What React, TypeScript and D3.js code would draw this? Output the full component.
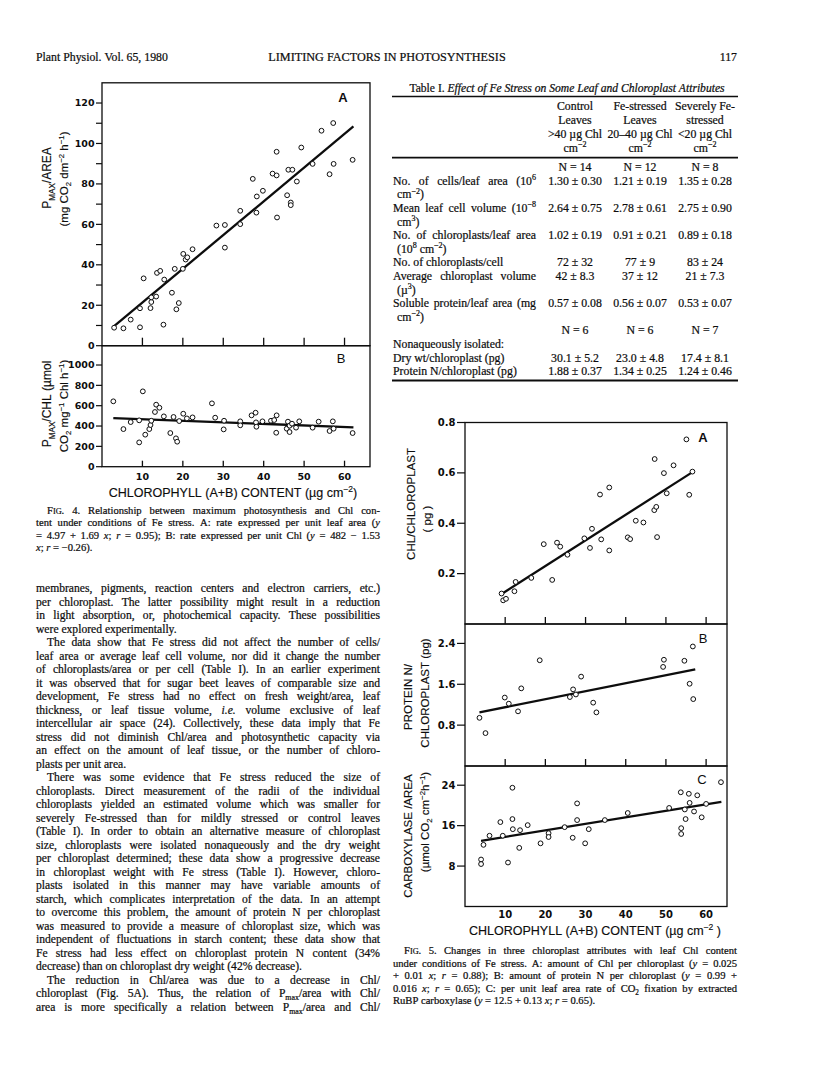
import React from "react";
import * as d3 from "d3";

const SERIF = '"Liberation Serif", "Times New Roman", Times, serif';
const SANS = '"Liberation Sans", Arial, Helvetica, sans-serif';
const TICKF = '"DejaVu Sans", "Liberation Sans", sans-serif';
const INK = "#0d0d0d";

type P = [number, number];

// ---------------- Fig. 4 data (chlorophyll µg cm-2, value) ----------------
const fig4A: P[] = [
  [3.0, 8.9], [5.3, 8.6], [7.1, 12.9], [9.4, 9.1], [9.4, 18.5], [10.3, 33.3], [12.0, 18.6], [12.2, 21.6],
  [12.2, 23.9], [13.4, 24.3], [13.6, 36.0], [14.4, 37.0], [15.2, 10.4], [15.4, 32.7], [17.3, 26.2], [18.0, 38.0],
  [18.4, 18.0], [19.0, 21.1], [20.0, 38.0], [20.1, 45.4], [20.7, 42.6], [21.1, 43.7], [22.4, 47.7], [28.3, 59.4],
  [30.4, 59.7], [30.4, 48.5], [34.2, 60.1], [34.2, 66.7], [37.3, 82.5], [38.3, 73.8], [38.2, 65.8], [39.8, 76.6],
  [42.2, 85.1], [43.2, 95.9], [43.2, 84.2], [43.3, 63.4], [45.8, 74.4], [46.1, 87.0], [47.1, 87.0],
  [46.7, 70.8], [46.7, 69.5], [48.2, 81.2], [49.3, 98.0], [52.1, 89.9], [54.3, 106.3], [56.3, 84.8], [57.2, 110.1],
  [57.3, 89.9], [62.0, 91.9],
];
const fig4B: P[] = [
  [2.8, 643], [5.3, 370], [7.1, 439], [9.2, 239], [9.2, 456], [10.1, 741], [10.7, 315], [11.7, 370], [12.0, 410],
  [12.2, 452], [13.1, 538], [13.4, 610], [14.2, 580], [15.3, 495], [16.9, 331], [17.7, 489], [18.3, 279], [18.6, 246],
  [19.1, 449], [20.1, 521], [21.0, 475], [22.4, 485], [27.2, 623], [28.0, 482], [30.1, 367], [30.2, 452], [34.2, 446],
  [34.2, 407], [37.0, 505], [38.0, 531], [38.1, 436], [38.2, 393], [39.7, 446], [41.8, 452], [42.6, 459], [43.2, 505],
  [43.1, 334], [46.0, 443], [45.7, 374], [46.4, 403], [46.4, 341], [47.0, 423], [48.0, 384], [48.8, 446], [52.1, 384],
  [53.6, 443], [56.3, 351], [57.1, 446], [57.3, 374], [62.0, 331],
];
const fit4A: P[] = [[3.0, 9.7], [62.2, 108.4]];
const fit4B: P[] = [[2.8, 478], [62.2, 387]];

// ---------------- Fig. 5 data ----------------
const fig5A: P[] = [
  [9.1, 0.121], [9.5, 0.094], [10.2, 0.1], [12.3, 0.13], [12.6, 0.167], [16.5, 0.183], [19.6, 0.317], [21.7, 0.175],
  [22.9, 0.323], [23.7, 0.307], [25.5, 0.275], [29.7, 0.34], [31.1, 0.302], [31.6, 0.378], [33.6, 0.514], [33.9, 0.336],
  [35.9, 0.542], [35.9, 0.292], [40.5, 0.344], [41.1, 0.337], [42.5, 0.41], [44.4, 0.403], [47.2, 0.655], [47.1, 0.452],
  [47.6, 0.465], [47.8, 0.345], [49.5, 0.599], [50.2, 0.519], [51.9, 0.63], [55.1, 0.733], [55.8, 0.513], [56.6, 0.605],
];
const fig5B: P[] = [
  [3.6, 0.943], [5.1, 0.644], [9.9, 1.34], [10.9, 1.22], [13.2, 1.07], [14.0, 1.52], [18.6, 2.07], [26.1, 1.35],
  [26.9, 1.5], [27.6, 1.4], [28.9, 1.75], [31.9, 1.24], [32.7, 1.05], [49.3, 1.94], [49.5, 2.08], [54.6, 2.06],
  [55.9, 1.61], [56.7, 2.34], [56.8, 1.31],
];
const fig5C: P[] = [
  [4.0, 9.3], [4.0, 8.4], [4.6, 12.2], [6.1, 14.0], [8.8, 16.7], [9.4, 14.0], [10.7, 8.7], [11.8, 23.5], [11.8, 17.3],
  [11.9, 15.3], [13.5, 11.6], [13.7, 15.1], [15.6, 16.1], [18.8, 12.5], [20.8, 14.5], [20.8, 13.75], [24.8, 15.7],
  [26.8, 13.6], [27.9, 20.4], [27.9, 17.1], [29.9, 12.5], [30.8, 15.3], [34.8, 17.1], [40.5, 18.5], [50.8, 19.5],
  [53.7, 22.6], [53.8, 15.5], [53.8, 14.35], [54.7, 19.2], [54.9, 17.3], [55.7, 22.3], [55.9, 20.5], [57.0, 18.8],
  [57.8, 22.0], [58.9, 17.65], [60.0, 20.3], [63.7, 24.6],
];
const fit5A: P[] = [[9.2, 0.12], [56.8, 0.605]];
const fit5B: P[] = [[3.6, 1.05], [57.3, 1.89]];
const fit5C: P[] = [[4.0, 13.0], [63.8, 20.7]];

// ---------------- ticks ----------------
const chlTicks = [10, 20, 30, 40, 50, 60];
const ticks4A = [0, 20, 40, 60, 80, 100, 120];
const minor4A = [10, 30, 50, 70, 90, 110];
const ticks4B = [0, 200, 400, 600, 800, 1000];
const ticks5A = [0.2, 0.4, 0.6, 0.8];
const ticks5B = [0.8, 1.6, 2.4];
const ticks5C = [8, 16, 24];

// ---------------- Table I ----------------
const colHeads = [
  ["Control", "Leaves", ">40 µg Chl", "cm^{−2}"],
  ["Fe-stressed", "Leaves", "20–40 µg Chl", "cm^{−2}"],
  ["Severely Fe-", "stressed", "<20 µg Chl", "cm^{−2}"],
];
const nGroup1 = ["N = 14", "N = 12", "N = 8"];
const nGroup2 = ["N = 6", "N = 6", "N = 7"];
const rowLabels1 = [
  ["No. of cells/leaf area (10^{6}", "cm^{−2})"],
  ["Mean leaf cell volume (10^{−8}", "cm^{3})"],
  ["No. of chloroplasts/leaf area", "(10^{8} cm^{−2})"],
  ["No. of chloroplasts/cell"],
  ["Average chloroplast volume", "(µ^{3})"],
  ["Soluble protein/leaf area (mg", "cm^{−2})"],
];
const groupLabel2 = "Nonaqueously isolated:";
const rowLabels2 = [["Dry wt/chloroplast (pg)"], ["Protein N/chloroplast (pg)"]];
const controlVals = ["1.30 ± 0.30", "2.64 ± 0.75", "1.02 ± 0.19", "72 ± 32", "42 ± 8.3", "0.57 ± 0.08", "30.1 ± 5.2", "1.88 ± 0.37"];
const feVals = ["1.21 ± 0.19", "2.78 ± 0.61", "0.91 ± 0.21", "77 ± 9", "37 ± 12", "0.56 ± 0.07", "23.0 ± 4.8", "1.34 ± 0.25"];
const severeVals = ["1.35 ± 0.28", "2.75 ± 0.90", "0.89 ± 0.18", "83 ± 24", "21 ± 7.3", "0.53 ± 0.07", "17.4 ± 8.1", "1.24 ± 0.46"];

// ---------------- running text ----------------
const fig4Caption: [string, string][] = [
  ["J", "F[ig]. 4. Relationship between maximum photosynthesis and Chl con-"],
  ["j", "tent under conditions of Fe stress. A: rate expressed per unit leaf area (*y*"],
  ["j", "= 4.97 + 1.69 *x*; *r* = 0.95); B: rate expressed per unit Chl (*y* = 482 − 1.53"],
  ["l", "*x*; *r* = −0.26)."],
];
const fig5Caption: [string, string][] = [
  ["J", "F[ig]. 5. Changes in three chloroplast attributes with leaf Chl content"],
  ["j", "under conditions of Fe stress. A: amount of Chl per chloroplast (*y* = 0.025"],
  ["j", "+ 0.01 *x*; *r* = 0.88); B: amount of protein N per chloroplast (*y* = 0.99 +"],
  ["j", "0.016 *x*; *r* = 0.65); C: per unit leaf area rate of CO_{2} fixation by extracted"],
  ["l", "RuBP carboxylase (*y* = 12.5 + 0.13 *x*; *r* = 0.65)."],
];
const bodyText: [string, string][] = [
  ["j", "membranes, pigments, reaction centers and electron carriers, etc.)"],
  ["j", "per chloroplast. The latter possibility might result in a reduction"],
  ["j", "in light absorption, or, photochemical capacity. These possibilities"],
  ["l", "were explored experimentally."],
  ["J", "The data show that Fe stress did not affect the number of cells/"],
  ["j", "leaf area or average leaf cell volume, nor did it change the number"],
  ["j", "of chloroplasts/area or per cell (Table I). In an earlier experiment"],
  ["j", "it was observed that for sugar beet leaves of comparable size and"],
  ["j", "development, Fe stress had no effect on fresh weight/area, leaf"],
  ["j", "thickness, or leaf tissue volume, *i.e.* volume exclusive of leaf"],
  ["j", "intercellular air space (24). Collectively, these data imply that Fe"],
  ["j", "stress did not diminish Chl/area and photosynthetic capacity via"],
  ["j", "an effect on the amount of leaf tissue, or the number of chloro-"],
  ["l", "plasts per unit area."],
  ["J", "There was some evidence that Fe stress reduced the size of"],
  ["j", "chloroplasts. Direct measurement of the radii of the individual"],
  ["j", "chloroplasts yielded an estimated volume which was smaller for"],
  ["j", "severely Fe-stressed than for mildly stressed or control leaves"],
  ["j", "(Table I). In order to obtain an alternative measure of chloroplast"],
  ["j", "size, chloroplasts were isolated nonaqueously and the dry weight"],
  ["j", "per chloroplast determined; these data show a progressive decrease"],
  ["j", "in chloroplast weight with Fe stress (Table I). However, chloro-"],
  ["j", "plasts isolated in this manner may have variable amounts of"],
  ["j", "starch, which complicates interpretation of the data. In an attempt"],
  ["j", "to overcome this problem, the amount of protein N per chloroplast"],
  ["j", "was measured to provide a measure of chloroplast size, which was"],
  ["j", "independent of fluctuations in starch content; these data show that"],
  ["j", "Fe stress had less effect on chloroplast protein N content (34%"],
  ["l", "decrease) than on chloroplast dry weight (42% decrease)."],
  ["J", "The reduction in Chl/area was due to a decrease in Chl/"],
  ["j", "chloroplast (Fig. 5A). Thus, the relation of P_{max}/area with Chl/"],
  ["j", "area is more specifically a relation between P_{max}/area and Chl/"],
];

// ---------------- rich text helpers ----------------
let measureCtx: CanvasRenderingContext2D | null = null;
function measure(t: string, size: number, italic: boolean, family: string, weight: string) {
  if (!measureCtx) measureCtx = document.createElement("canvas").getContext("2d");
  const c = measureCtx as CanvasRenderingContext2D;
  c.font = `${italic ? "italic " : ""}${weight} ${size}px ${family}`;
  return c.measureText(t).width;
}
type Run = { t: string; it: boolean; k: "n" | "sub" | "sup" | "sc" };
function parse(s: string): Run[][] {
  const words: Run[][] = [];
  let cur: Run[] = [];
  let it = false;
  let i = 0;
  const push = (t: string, k: Run["k"]) => {
    if (!t) return;
    const last = cur[cur.length - 1];
    if (last && last.it === it && last.k === k) last.t += t;
    else cur.push({ t, it, k });
  };
  while (i < s.length) {
    const c = s[i];
    if (c === " ") {
      if (cur.length) { words.push(cur); cur = []; }
      i++; continue;
    }
    if (c === "*") { it = !it; i++; continue; }
    if ((c === "_" || c === "^") && s[i + 1] === "{") {
      const j = s.indexOf("}", i);
      push(s.slice(i + 2, j), c === "_" ? "sub" : "sup");
      i = j + 1; continue;
    }
    if (c === "[") {
      const j = s.indexOf("]", i);
      push(s.slice(i + 1, j), "sc");
      i = j + 1; continue;
    }
    push(c, "n"); i++;
  }
  if (cur.length) words.push(cur);
  return words;
}
const runSize = (r: Run, size: number) => (r.k === "n" ? size : r.k === "sc" ? size * 0.78 : size * 0.68);
const runText = (r: Run) => (r.k === "sc" ? r.t.toUpperCase() : r.t);
const runW = (r: Run, size: number, fam: string, weight: string) => measure(runText(r), runSize(r, size), r.it, fam, weight);

function RichLine(props: {
  x: number; y: number; text: string; size: number; width?: number;
  align?: "left" | "center" | "right" | "justify"; indent?: number; family?: string; weight?: string; heavy?: number;
}) {
  const { x, y, text, size, width = 0, align = "left", indent = 0, family = SERIF, weight = "normal", heavy = 0.22 } = props;
  const words = parse(text);
  const ww = words.map((w) => w.reduce((a, r) => a + runW(r, size, family, weight), 0));
  const total = ww.reduce((a, b) => a + b, 0);
  let gap = measure(" ", size, false, family, weight);
  if (align === "justify" && words.length > 1) gap = (width - indent - total) / (words.length - 1);
  const full = total + gap * Math.max(0, words.length - 1);
  let cx = x + indent;
  if (align === "center") cx = x - full / 2;
  if (align === "right") cx = x - full;
  const spans: any[] = [];
  words.forEach((w, wi) => {
    w.forEach((r, ri) => {
      const dy = r.k === "sub" ? size * 0.28 : r.k === "sup" ? -size * 0.4 : 0;
      spans.push(
        <tspan key={`${wi}-${ri}`} x={cx} y={y + dy} fontSize={runSize(r, size)} fontStyle={r.it ? "italic" : "normal"}>
          {runText(r)}
        </tspan>
      );
      cx += runW(r, size, family, weight);
    });
    cx += gap;
  });
  return (
    <text fontFamily={family} fontSize={size} fontWeight={weight} fill={INK} stroke={INK} strokeWidth={heavy}>
      {spans}
    </text>
  );
}

function RotLabel({ cx, cy, text, size }: { cx: number; cy: number; text: string; size: number }) {
  return (
    <g transform={`rotate(-90 ${cx} ${cy})`}>
      <RichLine x={cx} y={cy + size * 0.36} text={text} size={size} align="center" family={SANS} heavy={0.15} />
    </g>
  );
}

function Paragraph({ lines, x, y0, step, width, size, indent }: {
  lines: [string, string][]; x: number; y0: number; step: number; width: number; size: number; indent: number;
}) {
  return (
    <g>
      {lines.map(([mode, t], i) => (
        <RichLine key={i} x={x} y={y0 + i * step} text={t} size={size} width={width}
          align={mode === "l" ? "left" : "justify"} indent={mode === "J" ? indent : 0} />
      ))}
    </g>
  );
}

// ---------------- scatter panel ----------------
function Panel(props: {
  x: d3.ScaleLinear<number, number>; y: d3.ScaleLinear<number, number>; pts: P[]; fit: P[];
  yTicks: number[]; yMinor?: number[]; fmt: (v: number) => string; tickLen: number; labelSize: number;
  xInner?: number; letter: string; lx: number; ly: number; lBold: boolean;
}) {
  const { x, y } = props;
  const [X0, X1] = x.range();
  const [Y0, Y1] = y.range();
  const line = d3.line<P>().x((d) => x(d[0])).y((d) => y(d[1]));
  return (
    <g>
      <rect x={X0} y={Y1} width={X1 - X0} height={Y0 - Y1} fill="none" stroke={INK} strokeWidth={1.3} />
      {props.yTicks.map((t) => (
        <g key={t}>
          <line x1={X0 - props.tickLen} x2={X0} y1={y(t)} y2={y(t)} stroke={INK} strokeWidth={1.2} />
          <text x={X0 - props.tickLen - 1.5} y={y(t)} dy="0.36em" textAnchor="end" fontFamily={TICKF}
            fontWeight="bold" fontSize={props.labelSize} fill={INK}>{props.fmt(t)}</text>
        </g>
      ))}
      {(props.yMinor || []).map((t) => (
        <line key={"m" + t} x1={X0 - props.tickLen} x2={X0} y1={y(t)} y2={y(t)} stroke={INK} strokeWidth={1.2} />
      ))}
      {props.xInner
        ? chlTicks.map((t) => (
            <line key={"x" + t} x1={x(t)} x2={x(t)} y1={Y0} y2={Y0 - (props.xInner as number)} stroke={INK} strokeWidth={1.3} />
          ))
        : null}
      <path d={line(props.fit) || ""} stroke={INK} strokeWidth={2.3} fill="none" />
      {props.pts.map((d, i) => (
        <circle key={i} cx={x(d[0])} cy={y(d[1])} r={2.4} fill="white" stroke={INK} strokeWidth={1} />
      ))}
      <text x={props.lx} y={props.ly} fontFamily={SANS} fontWeight={props.lBold ? "bold" : "normal"} fontSize={13}
        textAnchor="middle" fill={INK}>{props.letter}</text>
    </g>
  );
}

export default function App() {
  // Fig. 4 scales
  const x4 = d3.scaleLinear().domain([0, 66.3]).range([102, 370]);
  const y4A = d3.scaleLinear().domain([0, 130]).range([345.7, 82.8]);
  const y4B = d3.scaleLinear().domain([0, 1190]).range([466.7, 345.7]);
  // Fig. 5 scales
  const x5 = d3.scaleLinear().domain([0, 65.2]).range([465, 727]);
  const y5A = d3.scaleLinear().domain([0, 0.8]).range([624, 422.5]);
  const y5B = d3.scaleLinear().domain([0, 2.78]).range([766, 624]);
  const y5C = d3.scaleLinear().domain([0, 27.8]).range([906.5, 766]);

  const colX = [575, 640, 705];
  const TS = 11.8;
  const rowY0 = 184.7;
  const rowStep = 13.6;
  const tableLines: any[] = [];
  let k = 0;
  rowLabels1.forEach((lab, ri) => {
    const yy = rowY0 + k * rowStep;
    tableLines.push(
      <RichLine key={"l" + ri} x={393} y={yy} text={lab[0]} size={TS} width={143} align={lab.length > 1 ? "justify" : "left"} />
    );
    [controlVals, feVals, severeVals].forEach((vals, ci) =>
      tableLines.push(<RichLine key={`v${ri}-${ci}`} x={colX[ci]} y={yy} text={vals[ri]} size={TS} align="center" />)
    );
    k++;
    if (lab.length > 1) {
      tableLines.push(<RichLine key={"l2" + ri} x={397} y={rowY0 + k * rowStep} text={lab[1]} size={TS} />);
      k++;
    }
  });
  const yN2 = rowY0 + k * rowStep;
  nGroup2.forEach((t, ci) => tableLines.push(<RichLine key={"n2" + ci} x={colX[ci]} y={yN2} text={t} size={TS} align="center" />));
  k++;
  tableLines.push(<RichLine key="grp" x={393} y={rowY0 + k * rowStep} text={groupLabel2} size={TS} />);
  k++;
  rowLabels2.forEach((lab, ri) => {
    const yy = rowY0 + k * rowStep;
    tableLines.push(<RichLine key={"m" + ri} x={393} y={yy} text={lab[0]} size={TS} />);
    [controlVals, feVals, severeVals].forEach((vals, ci) =>
      tableLines.push(<RichLine key={`w${ri}-${ci}`} x={colX[ci]} y={yy} text={vals[6 + ri]} size={TS} align="center" />)
    );
    k++;
  });

  return (
    <svg width={816} height={1073} viewBox="0 0 816 1073" style={{ display: "block", background: "white" }}>
      <style>{`body{margin:0}`}</style>
      <rect x={0} y={0} width={816} height={1073} fill="white" />

      {/* running head */}
      <RichLine x={36} y={61} text="Plant Physiol. Vol. 65, 1980" size={11.8} />
      <RichLine x={387} y={61} text="LIMITING FACTORS IN PHOTOSYNTHESIS" size={12.2} align="center" />
      <RichLine x={737} y={61} text="117" size={11.8} align="right" />

      {/* Fig. 4 */}
      <Panel x={x4} y={y4A} pts={fig4A} fit={fit4A} yTicks={ticks4A} yMinor={minor4A} fmt={(v) => String(v)}
        tickLen={6} labelSize={9.5} xInner={8} letter="A" lx={343} ly={101.5} lBold />
      <Panel x={x4} y={y4B} pts={fig4B} fit={fit4B} yTicks={ticks4B} fmt={(v) => String(v)}
        tickLen={6} labelSize={9.5} xInner={6} letter="B" lx={341} ly={362.5} lBold={false} />
      {chlTicks.map((t) => (
        <text key={"x4" + t} x={x4(t)} y={479.5} textAnchor="middle" fontFamily={TICKF} fontWeight="bold" fontSize={9.5} fill={INK}>{t}</text>
      ))}
      <RotLabel cx={47} cy={178} text="P_{MAX}/AREA" size={12} />
      <RotLabel cx={64} cy={179} text="(mg CO_{2} dm^{−2} h^{−1})" size={11.5} />
      <RotLabel cx={47} cy={404} text="P_{MAX}/CHL (µmol" size={12} />
      <RotLabel cx={64} cy={406} text="CO_{2} mg^{−1} Chl h^{−1})" size={11.5} />
      <RichLine x={233} y={496.5} text="CHLOROPHYLL (A+B) CONTENT (µg cm^{−2})" size={12.5} family={SANS} align="center" heavy={0.15} />
      <Paragraph lines={fig4Caption} x={36} y0={513.5} step={12.5} width={344} size={10.6} indent={11} />

      {/* body text */}
      <Paragraph lines={bodyText} x={36} y0={592} step={13.5} width={344} size={11.6} indent={11} />

      {/* Table I */}
      <RichLine x={567} y={91.5} text="Table I. *Effect of Fe Stress on Some Leaf and Chloroplast Attributes*" size={11.6} align="center" />
      <line x1={392} x2={738} y1={96.5} y2={96.5} stroke={INK} strokeWidth={1.4} />
      {colHeads.map((lines, ci) =>
        lines.map((t, li) => <RichLine key={`h${ci}-${li}`} x={colX[ci]} y={110 + li * 14} text={t} size={TS} align="center" />)
      )}
      <line x1={392} x2={738} y1={157.6} y2={157.6} stroke={INK} strokeWidth={1.8} />
      {nGroup1.map((t, ci) => <RichLine key={"n1" + ci} x={colX[ci]} y={171.3} text={t} size={TS} align="center" />)}
      {tableLines}
      <line x1={392} x2={738} y1={380.5} y2={380.5} stroke={INK} strokeWidth={1.8} />

      {/* Fig. 5 */}
      <Panel x={x5} y={y5A} pts={fig5A} fit={fit5A} yTicks={ticks5A} fmt={(v) => v.toFixed(1)}
        tickLen={8} labelSize={10} xInner={7} letter="A" lx={703} ly={441.5} lBold />
      <Panel x={x5} y={y5B} pts={fig5B} fit={fit5B} yTicks={ticks5B} fmt={(v) => v.toFixed(1)}
        tickLen={8} labelSize={10} xInner={7} letter="B" lx={703} ly={642.5} lBold={false} />
      <Panel x={x5} y={y5C} pts={fig5C} fit={fit5C} yTicks={ticks5C} fmt={(v) => String(v)}
        tickLen={8} labelSize={10} letter="C" lx={702} ly={783.5} lBold={false} />
      {chlTicks.map((t) => (
        <text key={"x5" + t} x={x5(t)} y={917.5} textAnchor="middle" fontFamily={TICKF} fontWeight="bold" fontSize={10} fill={INK}>{t}</text>
      ))}
      <RotLabel cx={410.5} cy={504} text="CHL/CHLOROPLAST" size={11.5} />
      <RotLabel cx={426.5} cy={519} text="( pg )" size={11.5} />
      <RotLabel cx={408} cy={697} text="PROTEIN N/" size={11.5} />
      <RotLabel cx={425} cy={693} text="CHLOROPLAST (pg)" size={11.5} />
      <RotLabel cx={408} cy={836} text="CARBOXYLASE /AREA" size={11.5} />
      <RotLabel cx={425} cy={822} text="(µmol CO_{2} cm^{−2}h^{−1})" size={11.5} />
      <RichLine x={595} y={934.5} text="CHLOROPHYLL (A+B) CONTENT (µg cm^{−2} )" size={12.5} family={SANS} align="center" heavy={0.15} />
      <Paragraph lines={fig5Caption} x={393} y0={954} step={12.6} width={344} size={10.6} indent={11} />
    </svg>
  );
}
